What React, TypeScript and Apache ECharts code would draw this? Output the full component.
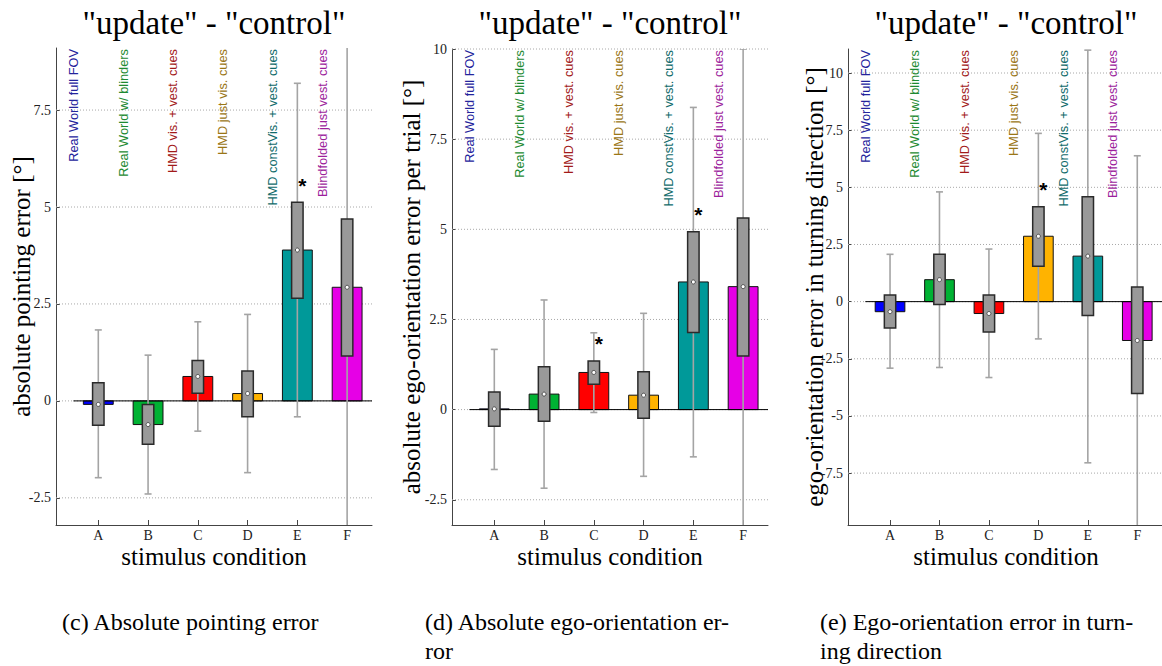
import React, { useEffect, useRef } from 'react';
import * as echarts from 'echarts';

// ---------- data ----------
const categories = ['A', 'B', 'C', 'D', 'E', 'F'];
const categoryPositions = [1, 2, 3, 4, 5, 6];
const conditionNames = [
  'Real World full FOV',
  'Real World w/ blinders',
  'HMD vis. + vest. cues',
  'HMD just vis. cues',
  'HMD constVis. + vest. cues',
  'Blindfolded just vest. cues',
];
const barColors = ['#0000ff', '#00b233', '#ff0000', '#ffb300', '#009999', '#e600e6'];
const nameColors = ['#24249c', '#1d8a32', '#a21a1a', '#9a7616', '#106b6b', '#9c1e9c'];

// (c) absolute pointing error
const pointingMean = [-0.09, -0.61, 0.63, 0.19, 3.89, 2.93];
const pointingBoxLow = [-0.63, -1.12, 0.2, -0.41, 2.65, 1.16];
const pointingBoxHigh = [0.47, -0.09, 1.04, 0.77, 5.12, 4.69];
const pointingWhiskerLow = [-1.98, -2.4, -0.78, -1.85, -0.41, -4.5];
const pointingWhiskerHigh = [1.83, 1.18, 2.04, 2.23, 8.19, 10.5];
const pointingStars = [5];
const pointingTicks = [-2.5, 0, 2.5, 5, 7.5];

// (d) absolute ego-orientation error
const egoMean = [0.02, 0.43, 1.03, 0.4, 3.54, 3.41];
const egoBoxLow = [-0.46, -0.32, 0.7, -0.24, 2.14, 1.49];
const egoBoxHigh = [0.49, 1.19, 1.35, 1.05, 4.93, 5.31];
const egoWhiskerLow = [-1.66, -2.18, -0.08, -1.85, -1.31, -4.5];
const egoWhiskerHigh = [1.67, 3.04, 2.13, 2.67, 8.38, 10.0];
const egoStars = [3, 5];
const egoTicks = [-2.5, 0, 2.5, 5, 7.5, 10];

// (e) ego-orientation error in turning direction
const turnMean = [-0.44, 0.96, -0.52, 2.86, 1.99, -1.7];
const turnBoxLow = [-1.15, -0.13, -1.33, 1.55, -0.61, -4.02];
const turnBoxHigh = [0.29, 2.07, 0.29, 4.15, 4.59, 0.64];
const turnWhiskerLow = [-2.91, -2.88, -3.32, -1.63, -7.05, -10.5];
const turnWhiskerHigh = [2.07, 4.8, 2.3, 7.36, 11.0, 6.38];
const turnStars = [4];
const turnTicks = [-7.5, -5, -2.5, 0, 2.5, 5, 7.5, 10];

const titleText = '"update" - "control"';
const xAxisName = 'stimulus condition';
const yAxisNames = [
  'absolute pointing error [°]',
  'absolute ego-orientation error per trial [°]',
  'ego-orientation error in turning direction [°]',
];
const captions = [
  ['(c) Absolute pointing error'],
  ['(d) Absolute ego-orientation er-', 'ror'],
  ['(e) Ego-orientation error in turn-', 'ing direction'],
];

// ---------- layout ----------
const SERIF = '"Liberation Serif", "Times New Roman", serif';
const SANS = '"Liberation Sans", Arial, sans-serif';
const X_MIN = 0.15;
const X_MAX = 6.5;
const BAR_HALF = 0.3;
const BOX_HALF = 0.115;

const panels = [
  {
    left: 56, top: 48, width: 316, height: 477, yMin: -3.2, yMax: 9.1, ticks: pointingTicks,
    mean: pointingMean, boxLow: pointingBoxLow, boxHigh: pointingBoxHigh,
    wLow: pointingWhiskerLow, wHigh: pointingWhiskerHigh, stars: pointingStars,
    yNameGap: 35, captionX: 62,
  },
  {
    left: 452, top: 49, width: 316, height: 476, yMin: -3.2, yMax: 10, ticks: egoTicks,
    mean: egoMean, boxLow: egoBoxLow, boxHigh: egoBoxHigh,
    wLow: egoWhiskerLow, wHigh: egoWhiskerHigh, stars: egoStars,
    yNameGap: 41, captionX: 425,
  },
  {
    left: 848, top: 49, width: 316, height: 476, yMin: -9.77, yMax: 11.05, ticks: turnTicks,
    mean: turnMean, boxLow: turnBoxLow, boxHigh: turnBoxHigh,
    wLow: turnWhiskerLow, wHigh: turnWhiskerHigh, stars: turnStars,
    yNameGap: 34, captionX: 820,
  },
];

function txt(text: string, x: number, y: number, font: string, opts: any = {}) {
  const align = opts.align || 'center';
  const va = opts.verticalAlign || 'middle';
  return {
    type: 'text',
    x,
    y,
    rotation: opts.rotation || 0,
    silent: true,
    style: {
      text,
      font,
      fill: opts.fill || '#000',
      align,
      textAlign: align,
      verticalAlign: va,
      textVerticalAlign: va,
    },
  };
}

function buildOption() {
  const grid: any[] = [];
  const xAxis: any[] = [];
  const yAxis: any[] = [];
  const series: any[] = [];
  const graphic: any[] = [];

  panels.forEach((p, pi) => {
    grid.push({ left: p.left, top: p.top, width: p.width, height: p.height });
    xAxis.push({
      type: 'value',
      gridIndex: pi,
      min: X_MIN,
      max: X_MAX,
      axisLine: { show: true, onZero: false, lineStyle: { color: '#444', width: 1 } },
      axisTick: {
        show: true, inside: true, length: 5, customValues: categoryPositions,
        lineStyle: { color: '#444' },
      },
      axisLabel: {
        customValues: categoryPositions,
        formatter: (v: number) => categories[Math.round(v) - 1] || '',
        fontFamily: SERIF, fontSize: 14, color: '#222', margin: 3,
      },
      splitLine: { show: false },
    });
    yAxis.push({
      type: 'value',
      gridIndex: pi,
      min: p.yMin,
      max: p.yMax,
      axisLine: { show: true, lineStyle: { color: '#444', width: 1 } },
      axisTick: {
        show: true, inside: true, length: 4, customValues: p.ticks,
        lineStyle: { color: '#444' },
      },
      axisLabel: {
        customValues: p.ticks,
        formatter: (v: number) => String(v),
        fontFamily: SERIF, fontSize: 14, color: '#222', margin: 5,
      },
      splitLine: { show: false },
    });

    const common = { xAxisIndex: pi, yAxisIndex: pi, silent: true };

    // dotted grid lines
    series.push({
      ...common, type: 'custom', z: 1,
      data: p.ticks.map((v) => [v]),
      encode: { y: 0 },
      renderItem: (_params: any, api: any) => {
        const v = api.value(0);
        const a = api.coord([X_MIN, v]);
        const b = api.coord([X_MAX, v]);
        return {
          type: 'line',
          shape: { x1: a[0], y1: a[1], x2: b[0], y2: b[1] },
          style: { stroke: '#a8a8a8', lineWidth: 1, lineDash: [1, 2] },
        };
      },
    });

    // bars
    series.push({
      ...common, type: 'custom', z: 2, clip: true,
      data: categoryPositions.map((x, i) => [x, p.mean[i]]),
      encode: { x: 0, y: 1 },
      renderItem: (params: any, api: any) => {
        const x = api.value(0);
        const v = api.value(1);
        const a = api.coord([x - BAR_HALF, 0]);
        const b = api.coord([x + BAR_HALF, v]);
        return {
          type: 'rect',
          shape: { x: a[0], y: Math.min(a[1], b[1]), width: b[0] - a[0], height: Math.abs(b[1] - a[1]) },
          style: { fill: barColors[params.dataIndex], stroke: '#111', lineWidth: 1 },
        };
      },
    });

    // baseline
    series.push({
      ...common, type: 'custom', z: 3,
      data: [[0.5, 0]],
      encode: { x: 0, y: 1 },
      renderItem: (_params: any, api: any) => {
        const a = api.coord([api.value(0), api.value(1)]);
        const b = api.coord([X_MAX, api.value(1)]);
        return {
          type: 'line',
          shape: { x1: a[0], y1: a[1], x2: b[0], y2: b[1] },
          style: { stroke: '#000', lineWidth: 1 },
        };
      },
    });

    // whiskers
    series.push({
      ...common, type: 'custom', z: 4, clip: true,
      data: categoryPositions.map((x, i) => [x, p.wLow[i], p.wHigh[i]]),
      encode: { x: 0, y: [1, 2] },
      renderItem: (_params: any, api: any) => {
        const x = api.value(0);
        const lo = api.coord([x, api.value(1)]);
        const hi = api.coord([x, api.value(2)]);
        const st = { stroke: '#a4a4a4', lineWidth: 1.6 };
        return {
          type: 'group',
          children: [
            { type: 'line', shape: { x1: lo[0], y1: lo[1], x2: hi[0], y2: hi[1] }, style: st },
            { type: 'line', shape: { x1: lo[0] - 3.5, y1: lo[1], x2: lo[0] + 3.5, y2: lo[1] }, style: st },
            { type: 'line', shape: { x1: hi[0] - 3.5, y1: hi[1], x2: hi[0] + 3.5, y2: hi[1] }, style: st },
          ],
        };
      },
    });

    // boxes
    series.push({
      ...common, type: 'custom', z: 5, clip: true,
      data: categoryPositions.map((x, i) => [x, p.boxLow[i], p.boxHigh[i]]),
      encode: { x: 0, y: [1, 2] },
      renderItem: (_params: any, api: any) => {
        const x = api.value(0);
        const a = api.coord([x - BOX_HALF, api.value(1)]);
        const b = api.coord([x + BOX_HALF, api.value(2)]);
        return {
          type: 'rect',
          shape: { x: a[0], y: Math.min(a[1], b[1]), width: b[0] - a[0], height: Math.abs(b[1] - a[1]) },
          style: { fill: '#999999', stroke: '#2a2a2a', lineWidth: 1.5 },
        };
      },
    });

    // median dots
    series.push({
      ...common, type: 'custom', z: 6,
      data: categoryPositions.map((x, i) => [x, p.mean[i]]),
      encode: { x: 0, y: 1 },
      renderItem: (_params: any, api: any) => {
        const c = api.coord([api.value(0), api.value(1)]);
        return {
          type: 'circle',
          shape: { cx: c[0], cy: c[1], r: 2 },
          style: { fill: '#ffffff', stroke: '#333', lineWidth: 0.8 },
        };
      },
    });

    // significance stars
    series.push({
      ...common, type: 'custom', z: 7,
      data: p.stars.map((s) => [s, p.boxHigh[s - 1]]),
      encode: { x: 0, y: 1 },
      renderItem: (_params: any, api: any) => {
        const c = api.coord([api.value(0), api.value(1)]);
        return {
          type: 'text',
          x: c[0] + 5,
          y: c[1] - 17,
          style: {
            text: '*', font: `bold 21px ${SANS}`, fill: '#000',
            align: 'center', verticalAlign: 'middle',
          },
        };
      },
    });

    // condition names (rotated)
    series.push({
      ...common, type: 'custom', z: 8,
      data: categoryPositions.map((x) => [x - 0.5, p.yMax]),
      encode: { x: 0, y: 1 },
      renderItem: (params: any, api: any) => {
        const c = api.coord([api.value(0), api.value(1)]);
        return {
          type: 'text',
          x: c[0],
          y: c[1] + 1,
          rotation: Math.PI / 2,
          style: {
            text: conditionNames[params.dataIndex],
            font: `12.8px ${SANS}`,
            fill: nameColors[params.dataIndex],
            align: 'right',
            verticalAlign: 'middle',
          },
        };
      },
    });

    const cx = p.left + p.width / 2;
    graphic.push(txt(titleText, cx, 23, `33px ${SERIF}`));
    graphic.push(txt(xAxisName, cx, 556, `25px ${SERIF}`));
    graphic.push(
      txt(yAxisNames[pi], p.left - p.yNameGap, p.top + p.height / 2, `25px ${SERIF}`, {
        rotation: Math.PI / 2,
      })
    );
    captions[pi].forEach((line, li) => {
      graphic.push(txt(line, p.captionX, 622 + li * 29, `24px ${SERIF}`, { align: 'left' }));
    });
  });

  return {
    animation: false,
    backgroundColor: '#ffffff',
    grid,
    xAxis,
    yAxis,
    series,
    graphic: { elements: graphic },
  };
}

export default function App() {
  const ref = useRef<HTMLDivElement>(null);
  useEffect(() => {
    if (!ref.current) return;
    const chart = echarts.init(ref.current, undefined, { renderer: 'svg' });
    chart.setOption(buildOption() as any);
    return () => chart.dispose();
  }, []);
  return (
    <div
      ref={ref}
      style={{ position: 'fixed', left: 0, top: 0, width: 1162, height: 666, background: '#fff' }}
    />
  );
}
